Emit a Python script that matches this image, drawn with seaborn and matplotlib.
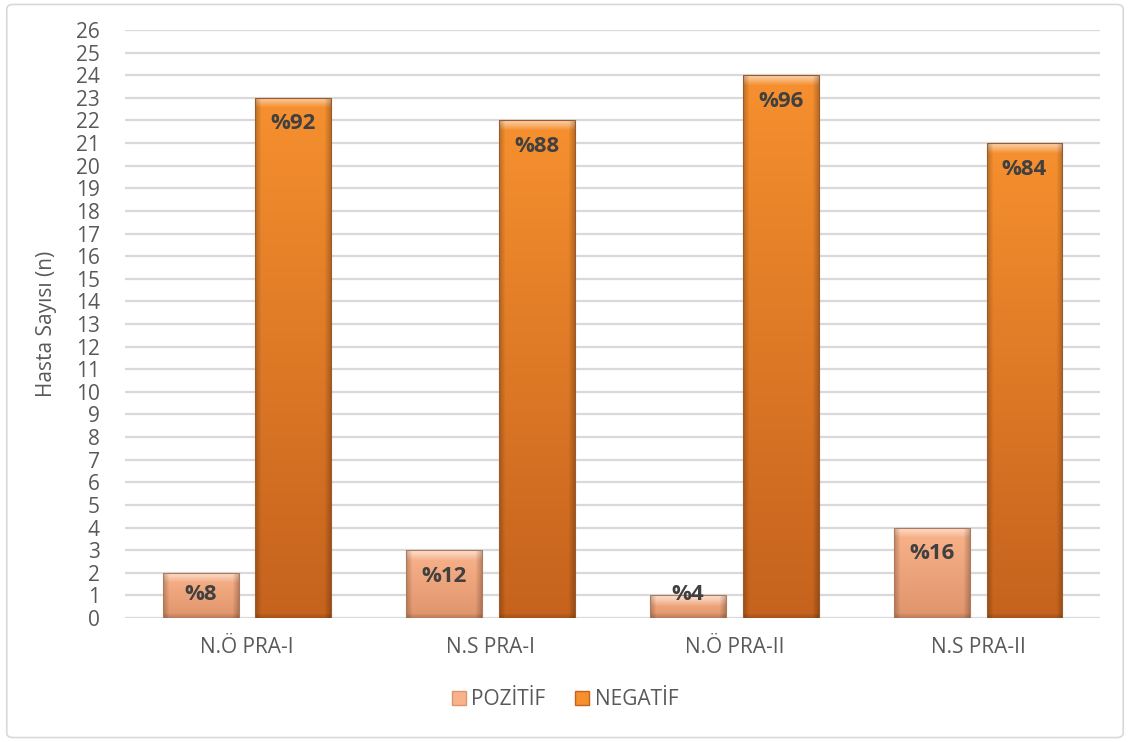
import numpy as np
import pandas as pd
import matplotlib
matplotlib.use("Agg")
import matplotlib.pyplot as plt
import matplotlib.patches as mpatches
import seaborn as sns

categories = ["N.Ö PRA-I", "N.S PRA-I", "N.Ö PRA-II", "N.S PRA-II"]
pozitif = [2, 3, 1, 4]
negatif = [23, 22, 24, 21]
pct_pozitif = ["%8", "%12", "%4", "%16"]
pct_negatif = ["%92", "%88", "%96", "%84"]
series = ["POZİTİF", "NEGATİF"]

# top / bottom colours of the gradient for each series
top_cols = {"POZİTİF": "#F9B38A", "NEGATİF": "#F6902F"}
bot_cols = {"POZİTİF": "#E0946C", "NEGATİF": "#C5621D"}
txt = "#595959"

df = pd.DataFrame({
    "kategori": categories * 2,
    "seri": [series[0]] * 4 + [series[1]] * 4,
    "n": pozitif + negatif,
    "etiket": pct_pozitif + pct_negatif,
})

sns.set_theme(style="white")
plt.rcParams["font.family"] = ["Open Sans", "DejaVu Sans"]

fig = plt.figure(figsize=(11.3, 7.42), dpi=100)
ax = fig.add_axes([0.1106, 0.1671, 0.8629, 0.7925])

sns.barplot(data=df, x="kategori", y="n", hue="seri", order=categories,
            hue_order=series, palette=[top_cols[s] for s in series],
            width=0.76, gap=0.18, ax=ax, legend=False)

ax.set_ylim(0, 26)
ax.set_xlim(-0.5, 3.5)
ax.set_yticks(range(0, 27))
ax.yaxis.grid(True, color="#D9D9D9", linewidth=1.6)
ax.set_axisbelow(True)
for s in ax.spines.values():
    s.set_visible(False)

px_per_unit = 588 / 26.0


def shade(c0, c1, h, w):
    a = np.array(matplotlib.colors.to_rgb(c0))
    b = np.array(matplotlib.colors.to_rgb(c1))
    t = np.linspace(0, 1, h)[:, None, None]
    img = a * (1 - t) + b * t
    img = np.repeat(img, w, axis=1)
    bev = 10
    for i in range(min(bev, h // 2)):
        f = 0.6 * (1 - i / bev)
        img[i, :, :] = img[i, :, :] + (1 - img[i, :, :]) * f
    for j in range(6):
        f = 0.22 * (1 - j / 6)
        img[:, j, :] *= (1 - f)
        img[:, w - 1 - j, :] *= (1 - f)
    for i in range(4):
        img[h - 1 - i, :, :] *= 0.85 + 0.03 * i
    return np.clip(img, 0, 1)


patches = list(ax.patches)
for k, p in enumerate(patches):
    s = series[k // 4]
    x0, w = p.get_x(), p.get_width()
    hgt = p.get_height()
    hp = max(int(hgt * px_per_unit), 4)
    img = shade(top_cols[s], bot_cols[s], hp, 75)
    im = ax.imshow(img, extent=[x0, x0 + w, 0, hgt], aspect="auto",
                   zorder=2, interpolation="bilinear")
    im.set_clip_path(p)
    p.set_edgecolor("#9A5A2E" if s == "NEGATİF" else "#B07A5A")
    p.set_linewidth(0.8)
    p.set_zorder(3)
    p.set_facecolor("none")

ax.set_ylim(0, 26)
ax.set_xlim(-0.5, 3.5)

for k, p in enumerate(patches):
    row = df.iloc[k]
    v = row["n"]
    y = max(v - 1.15, 1.05)
    ax.text(p.get_x() + p.get_width() / 2, y, row["etiket"], ha="center",
            va="center", fontsize=16, fontweight="bold", color="#404040",
            zorder=5)

ax.set_xlabel("")
ax.set_ylabel("Hasta Sayısı (n)", fontsize=15, color=txt, labelpad=14)
ax.tick_params(axis="y", length=0, pad=18, labelsize=15, labelcolor=txt)
ax.tick_params(axis="x", length=0, pad=14, labelsize=15, labelcolor=txt)

handles = [mpatches.Patch(facecolor=top_cols[s], edgecolor=bot_cols[s], label=s)
           for s in series]
fig.legend(handles=handles, loc="center", bbox_to_anchor=(0.5, 0.057),
           ncol=2, frameon=False, fontsize=15, labelcolor=txt,
           handlelength=0.7, handleheight=0.7, handletextpad=0.25,
           columnspacing=1.4)

border = mpatches.FancyBboxPatch((0.006, 0.006), 0.988, 0.988,
                                 boxstyle="round,pad=0,rounding_size=0.006",
                                 transform=fig.transFigure, fill=False,
                                 edgecolor="#D9D9D9", linewidth=1.2)
fig.patches.append(border)

fig.savefig("out.png", dpi=100)
